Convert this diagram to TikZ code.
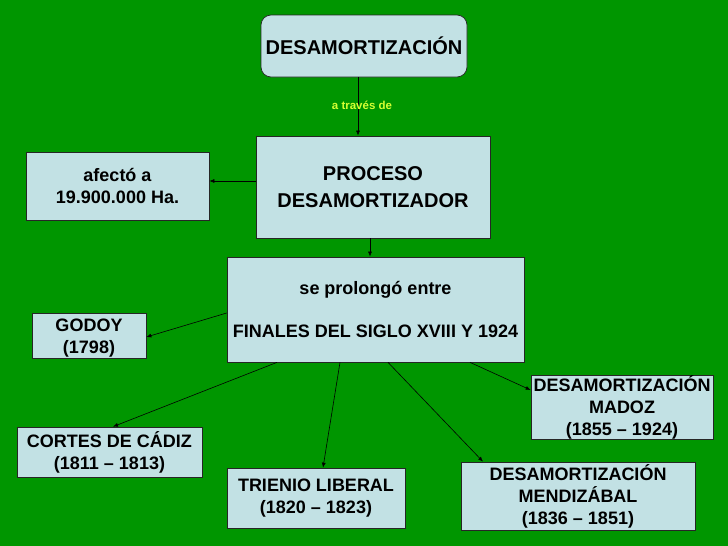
\documentclass[tikz,border=0pt]{standalone}
\usepackage{fontspec}
\setmainfont{Liberation Sans}
\usetikzlibrary{calc,arrows.meta}
\definecolor{bggreen}{RGB}{0,150,0}
\definecolor{boxblue}{RGB}{194,225,228}
\definecolor{lbl}{RGB}{214,255,51}
\tikzset{
  boxtext/.style={inner sep=0pt, align=center, font=\fontsize{18}{22}\selectfont\bfseries},
  box/.style={boxtext, draw=black!85, line width=0.7pt, fill=boxblue},
  bigbox/.style={box, font=\fontsize{20}{27}\selectfont\bfseries},
  conn/.style={draw=black, line width=0.6pt, -{Latex[length=5pt,width=4pt]}}
}
\begin{document}
\begin{tikzpicture}[x=1pt,y=-1pt]
\fill[bggreen] (0,0) rectangle (728,546);
\useasboundingbox (0,0) rectangle (728,546);
\node[bigbox, rounded corners=10pt, minimum width=206pt, minimum height=62pt] (top) at (364,46) {DESAMORTIZACIÓN};
\node[bigbox, minimum width=234pt, minimum height=102pt] (proc) at (373,187) {PROCESO\\DESAMORTIZADOR};
\node[box, minimum width=183pt, minimum height=68pt] (afe) at (117.5,186) {afectó a\\19.900.000 Ha.};
\node[box, minimum width=297pt, minimum height=105pt] (prol) at (375.5,309.5) {se prolongó entre\\[21pt]FINALES DEL SIGLO XVIII Y 1924};
\node[box, minimum width=114pt, minimum height=45pt] (godoy) at (89,335.5) {};
\node[boxtext] (godoyt) at (89,338) {GODOY\\(1798)};
\node[box, minimum width=185pt, minimum height=50pt] (cortes) at (109.5,452) {CORTES DE CÁDIZ\\(1811 – 1813)};
\node[box, minimum width=178pt, minimum height=60pt] (trienio) at (316,498) {TRIENIO LIBERAL\\(1820 – 1823)};
\node[box, minimum width=234pt, minimum height=68pt] (mendi) at (578,496) {DESAMORTIZACIÓN\\MENDIZÁBAL\\(1836 – 1851)};
\node[box, minimum width=182pt, minimum height=61pt] (madoz) at (622,407.5) {DESAMORTIZACIÓN\\MADOZ\\(1855 – 1924)};
\draw[conn] ($(top.south)+(-6,0)$) -- ($(proc.north)+(-15,0)$);
\node[text=lbl, font=\fontsize{11.5}{13}\selectfont\bfseries, inner sep=1pt] (lab) at (362,105) {a través de};
\coordinate (pw) at ($(proc.west)+(0,-6)$);
\draw[conn] (pw) -- (afe.east |- pw);
\draw[conn] ($(proc.south)+(-3,0)$) -- ($(prol.north)+(-5.5,0)$);
\draw[conn] ($(prol.west)+(0,3.5)$) -- ($(godoy.east)+(0,1.5)$);
\draw[conn] ($(prol.south)+(-98.5,0)$) -- ($(cortes.north)+(3.5,0)$);
\draw[conn] ($(prol.south)+(-35.5,0)$) -- ($(trienio.north)+(7,0)$);
\draw[conn] ($(prol.south)+(12.5,0)$) -- ($(mendi.north)+(-95,0)$);
\draw[conn] ($(prol.south)+(94.5,0)$) -- ($(madoz.west)+(0,-17.5)$);
\end{tikzpicture}
\end{document}
